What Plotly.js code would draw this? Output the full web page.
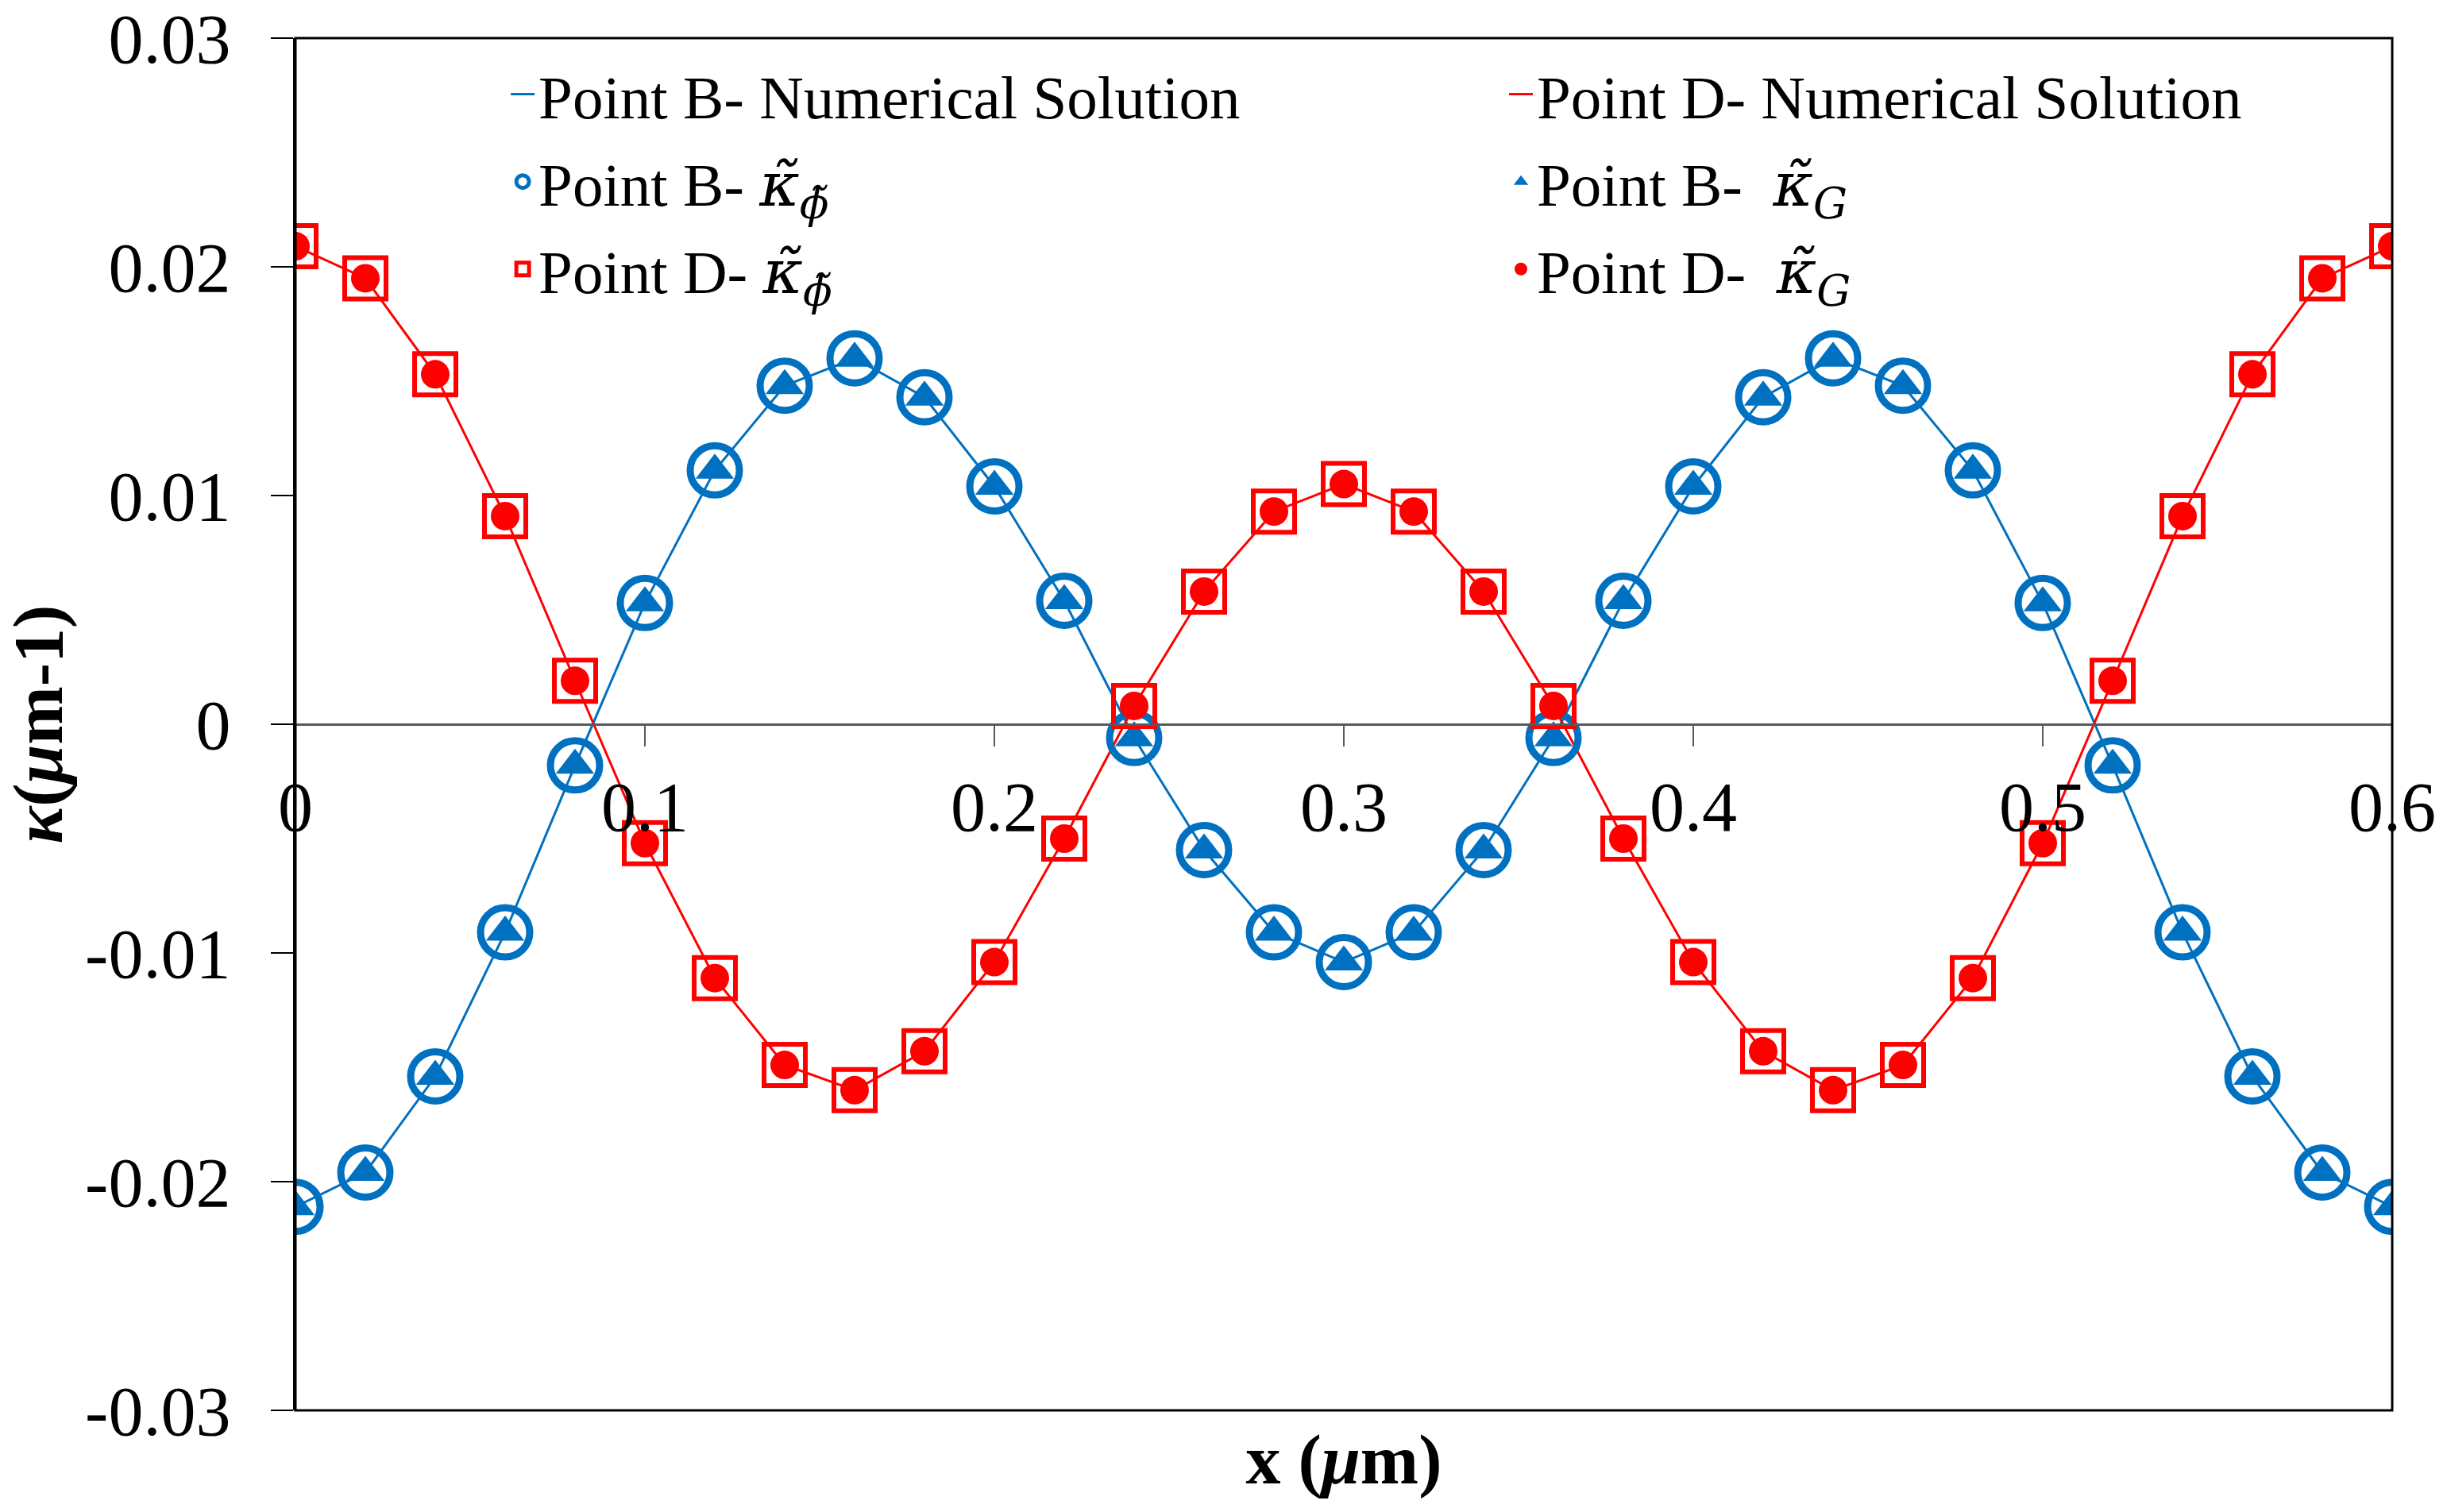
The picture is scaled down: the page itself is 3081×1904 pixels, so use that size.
<!DOCTYPE html>
<html>
<head>
<meta charset="utf-8">
<script src="https://cdn.plot.ly/plotly-3.0.1.min.js"></script>
<style>html,body{margin:0;padding:0;background:#fff;}#chart{width:3081px;height:1904px;}</style>
</head>
<body>
<div id="chart"></div>
<script>
// x positions (µm)
const xVals = [0,0.02,0.04,0.06,0.08,0.10,0.12,0.14,0.16,0.18,0.20,0.22,0.24,0.26,0.28,0.30,
               0.32,0.34,0.36,0.38,0.40,0.42,0.44,0.46,0.48,0.50,0.52,0.54,0.56,0.58,0.60];
// Point B curvature
const pointB = [-0.0211,-0.0196,-0.0154,-0.0091,-0.0018,0.0053,0.0111,0.0148,0.0160,0.0143,0.0104,0.0054,-0.0006,-0.0055,-0.0091,-0.0104,
                -0.0091,-0.0055,-0.0006,0.0054,0.0104,0.0143,0.0160,0.0148,0.0111,0.0053,-0.0018,-0.0091,-0.0154,-0.0196,-0.0211];
// Point D curvature
const pointD = [0.0209,0.0195,0.0153,0.0091,0.0019,-0.0052,-0.0111,-0.0149,-0.0160,-0.0143,-0.0104,-0.0050,0.0008,0.0058,0.0093,0.0105,
                0.0093,0.0058,0.0008,-0.0050,-0.0104,-0.0143,-0.0160,-0.0149,-0.0111,-0.0052,0.0019,0.0091,0.0153,0.0195,0.0209];

const xTickVals = [0,0.1,0.2,0.3,0.4,0.5,0.6];
const xTickText = ["0","0.1","0.2","0.3","0.4","0.5","0.6"];
const yTickVals = [-0.03,-0.02,-0.01,0,0.01,0.02,0.03];
const yTickText = ["-0.03","-0.02","-0.01","0","0.01","0.02","0.03"];

const MATH = "font-family:DejaVu Serif";
const kPhi = "<span style='" + MATH + "'><i>κ̃</i><sub><i>ϕ̃</i></sub></span>";
const kG = "<span style='" + MATH + "'><i>κ̃</i><sub><i>G</i></sub></span>";
const seriesNames = [
  "Point B- Numerical Solution",
  "Point D- Numerical Solution",
  "Point B- " + kPhi,
  "Point B-  " + kG,
  "Point D- " + kPhi,
  "Point D-  " + kG
];

const BLUE = "#0070C0";
const RED = "#FF0000";
const FONT = "Liberation Serif, Times New Roman, serif";

const traces = [
  {x: xVals, y: pointB, mode: "lines", name: seriesNames[0], legend: "legend", legendgroup: "a", legendrank: 1,
   line: {color: BLUE, width: 3}},
  {x: xVals, y: pointD, mode: "lines", name: seriesNames[1], legend: "legend2", legendgroup: "b", legendrank: 1,
   line: {color: RED, width: 3}},
  {x: xVals, y: pointB, xaxis: "x2", mode: "markers", name: seriesNames[2], legend: "legend", legendgroup: "c", legendrank: 2,
   marker: {symbol: "circle-open", size: 62, color: BLUE, line: {color: BLUE, width: 9}}},
  {x: xVals, y: pointB, xaxis: "x2", mode: "markers", name: seriesNames[3], legend: "legend2", legendgroup: "d", legendrank: 2,
   marker: {symbol: "triangle-up", size: 42, color: BLUE, line: {width: 0}}},
  {x: xVals, y: pointD, xaxis: "x2", mode: "markers", name: seriesNames[4], legend: "legend", legendgroup: "e", legendrank: 3,
   marker: {symbol: "square-open", size: 52, color: RED, line: {color: RED, width: 6}}},
  {x: xVals, y: pointD, xaxis: "x2", mode: "markers", name: seriesNames[5], legend: "legend2", legendgroup: "f", legendrank: 3,
   marker: {symbol: "circle", size: 36, color: RED, line: {width: 0}}}
];

const legendBase = {
  orientation: "v", yanchor: "top", xanchor: "left", y: 0.9919,
  bgcolor: "rgba(0,0,0,0)", borderwidth: 0,
  font: {family: FONT, size: 77, color: "#000"},
  tracegroupgap: 7, traceorder: "grouped"
};

const layout = {
  width: 3081, height: 1904,
  paper_bgcolor: "#ffffff", plot_bgcolor: "#ffffff",
  font: {family: FONT, size: 88, color: "#000"},
  margin: {l: 372, r: 69, t: 48, b: 128, pad: 0},
  showlegend: true,
  legend: Object.assign({}, legendBase, {x: 0.1008}),
  legend2: Object.assign({}, legendBase, {x: 0.5769}),
  xaxis: {
    range: [0, 0.6], anchor: "y", side: "bottom",
    showline: false, ticks: "", showticklabels: false,
    showgrid: false, zeroline: false,
    title: {text: "<b>x (<i>μ</i>m)</b>", font: {family: FONT, size: 88, color: "#000"}, standoff: 30}
  },
  xaxis2: {
    range: [0, 0.6], overlaying: "x", anchor: "free", position: 0.5,
    showline: true, linecolor: "#595959", linewidth: 3,
    ticks: "outside", ticklen: 26, tickwidth: 2, tickcolor: "#595959",
    tickvals: xTickVals, ticktext: xTickText, ticklabelstandoff: 0, ticklabeloverflow: "allow",
    showgrid: false, zeroline: false,
    tickfont: {family: FONT, size: 88, color: "#000"}
  },
  yaxis: {
    range: [-0.03, 0.03],
    showline: true, linecolor: "#000", linewidth: 3,
    ticks: "outside", ticklen: 28, tickwidth: 2, tickcolor: "#000",
    tickvals: yTickVals, ticktext: yTickText, ticklabelstandoff: 33, ticklabeloverflow: "allow",
    showgrid: false, zeroline: false,
    tickfont: {family: FONT, size: 88, color: "#000"},
    title: {text: "\u00A0\u00A0\u00A0<b><i>κ</i>(<i>μ</i>m-1)</b>", font: {family: FONT, size: 88, color: "#000"}, standoff: 47}
  },
  shapes: [
    {type: "rect", xref: "paper", yref: "paper", x0: 0, x1: 1, y0: 0, y1: 1,
     line: {color: "#000", width: 3}, fillcolor: "rgba(0,0,0,0)", layer: "above"}
  ]
};

Plotly.newPlot("chart", traces, layout, {displayModeBar: false, staticPlot: true});
</script>
</body>
</html>
